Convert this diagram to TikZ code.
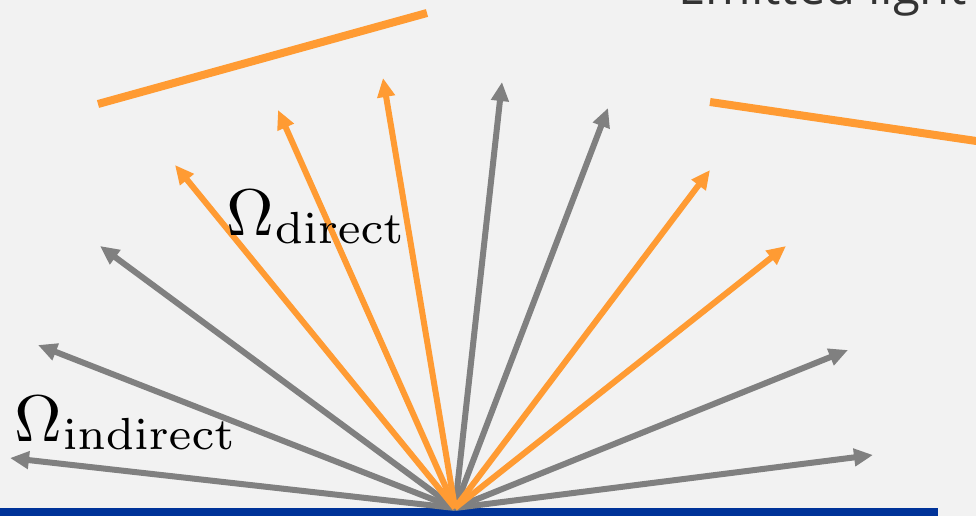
\documentclass[tikz,border=0pt]{standalone}
\usepackage{fontspec}
\newfontfamily\emfont{Open Sans}
\usetikzlibrary{arrows.meta}
\definecolor{bgc}{RGB}{242,242,242}
\definecolor{rayg}{RGB}{128,128,128}
\definecolor{rayo}{RGB}{255,155,51}
\definecolor{barblue}{RGB}{0,51,153}
\font\omegafont=cmr10 at 66pt
\font\subfont=cmr7 at 45pt
\newcommand{\omegasub}[1]{{\omegafont\char10}\kern1pt\lower8pt\hbox{\subfont #1}}
\tikzset{
  ray/.style={line width=6pt, -{Triangle[length=19pt,width=17pt]}},
  grayray/.style={ray, draw=rayg, fill=rayg},
  orangeray/.style={ray, draw=rayo, fill=rayo},
  surface/.style={draw=rayo, line width=8pt},
  omega/.style={inner sep=0pt, anchor=base west},
}
\begin{document}
\begin{tikzpicture}[x=1pt,y=-1pt]
\useasboundingbox (0,0) rectangle (976,516);
\clip (0,0) rectangle (976,516);
\fill[bgc] (0,0) rectangle (976,516);
% bar
\fill[barblue] (0,508) rectangle (938,516);
% text
\node[inner sep=0pt, anchor=base west, font=\emfont\fontsize{49}{49}\selectfont, text=black!80] (emit) at (678,5) {Emitted light sources};
% surfaces
\coordinate (s1a) at (98,104);
\coordinate (s1b) at (427,13);
\coordinate (s2a) at (710,102);
\coordinate (s2b) at (990,143);
\draw[surface] (s1a) -- (s1b);
\draw[surface] (s2a) -- (s2b);
% origin
\coordinate (o) at (455,508);
% gray tips
\coordinate (g1) at (10,458);
\coordinate (g2) at (38,345);
\coordinate (g3) at (100,246);
\coordinate (g4) at (502,82);
\coordinate (g5) at (608,108);
\coordinate (g6) at (848,350);
\coordinate (g7) at (873,455);
% orange tips
\coordinate (o1) at (175,165);
\coordinate (o2) at (278,110);
\coordinate (o3) at (383,78);
\coordinate (o4) at (710,170);
\coordinate (o5) at (786,246);
\foreach \t in {g1,g2,g3,g4,g5,g6,g7} \draw[grayray] (o) -- (\t);
\foreach \t in {o1,o2,o3,o4,o5} \draw[orangeray] (o) -- (\t);
% labels
\node[omega] (ldir) at (226,235) {\omegasub{direct}};
\node[omega] (lind) at (14,441) {\omegasub{indirect}};
\end{tikzpicture}
\end{document}
